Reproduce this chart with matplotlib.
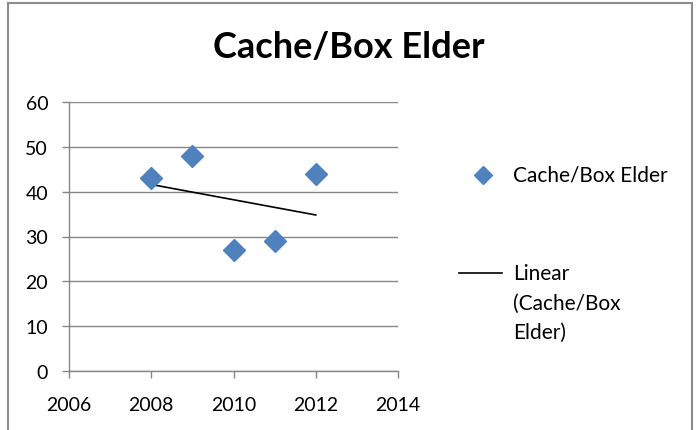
import numpy as np
import matplotlib.pyplot as plt
from matplotlib.lines import Line2D
from matplotlib.patches import Rectangle

years = [2008, 2009, 2010, 2011, 2012]
values = [43, 48, 27, 29, 44]
series_name = "Cache/Box Elder"
trend_lines = ["Linear", "(Cache/Box", "Elder)"]

plt.rcParams['font.family'] = ['Lato', 'DejaVu Sans']

W, H = 697, 431
fig = plt.figure(figsize=(W / 100, H / 100), dpi=100)
ax = fig.add_axes([69 / W, 1 - 372 / H, (398 - 69) / W, (372 - 103) / H])

grey = '#868686'
blue = '#4F81BD'

# linear trendline from the data (like Excel's)
slope, intercept = np.polyfit(years, values, 1)
tx = np.array([min(years), max(years)])
ax.plot(tx, slope * tx + intercept, color='black', lw=1.2, zorder=2)
ax.plot(years, values, linestyle='none', marker='D', ms=11,
        color=blue, zorder=3)

ax.set_xlim(2006, 2014)
ax.set_ylim(0, 60)
ax.set_xticks(range(2006, 2015, 2))
ax.set_yticks(range(0, 61, 10))
ax.yaxis.grid(True, color=grey, lw=1)
ax.set_axisbelow(True)
for s in ['top', 'right']:
    ax.spines[s].set_visible(False)
for s in ['left', 'bottom']:
    ax.spines[s].set_color(grey)
    ax.spines[s].set_linewidth(1)
ax.tick_params(axis='both', colors=grey, length=5, width=1, labelcolor='black',
               labelsize=14)
ax.tick_params(axis='x', pad=13)
ax.tick_params(axis='y', pad=10)

fig.text(0.5, 1 - 47 / H, series_name, ha='center', va='center',
         fontsize=26, fontweight='bold')

# legend, drawn by hand to match Excel's layout
def fx(x):
    return x / W
def fy(y):
    return 1 - y / H

fig.add_artist(Line2D([fx(483)], [fy(176)], marker='D', ms=9, color=blue,
                      transform=fig.transFigure))
fig.text(fx(513), fy(176), series_name, va='center', fontsize=15)
fig.add_artist(Line2D([fx(459), fx(502)], [fy(274), fy(274)], color='black',
                      lw=1.2, transform=fig.transFigure))
for i, line in enumerate(trend_lines):
    fig.text(fx(513), fy(274 + 29.5 * i), line, va='center', fontsize=15)

# chart border
fig.add_artist(Rectangle((fx(8), fy(H + 10)), fx(692 - 8), fy(4) - fy(H + 10),
                         fill=False, edgecolor='#8c8c8c', lw=1.5,
                         transform=fig.transFigure))

fig.savefig('out.png', dpi=100)
